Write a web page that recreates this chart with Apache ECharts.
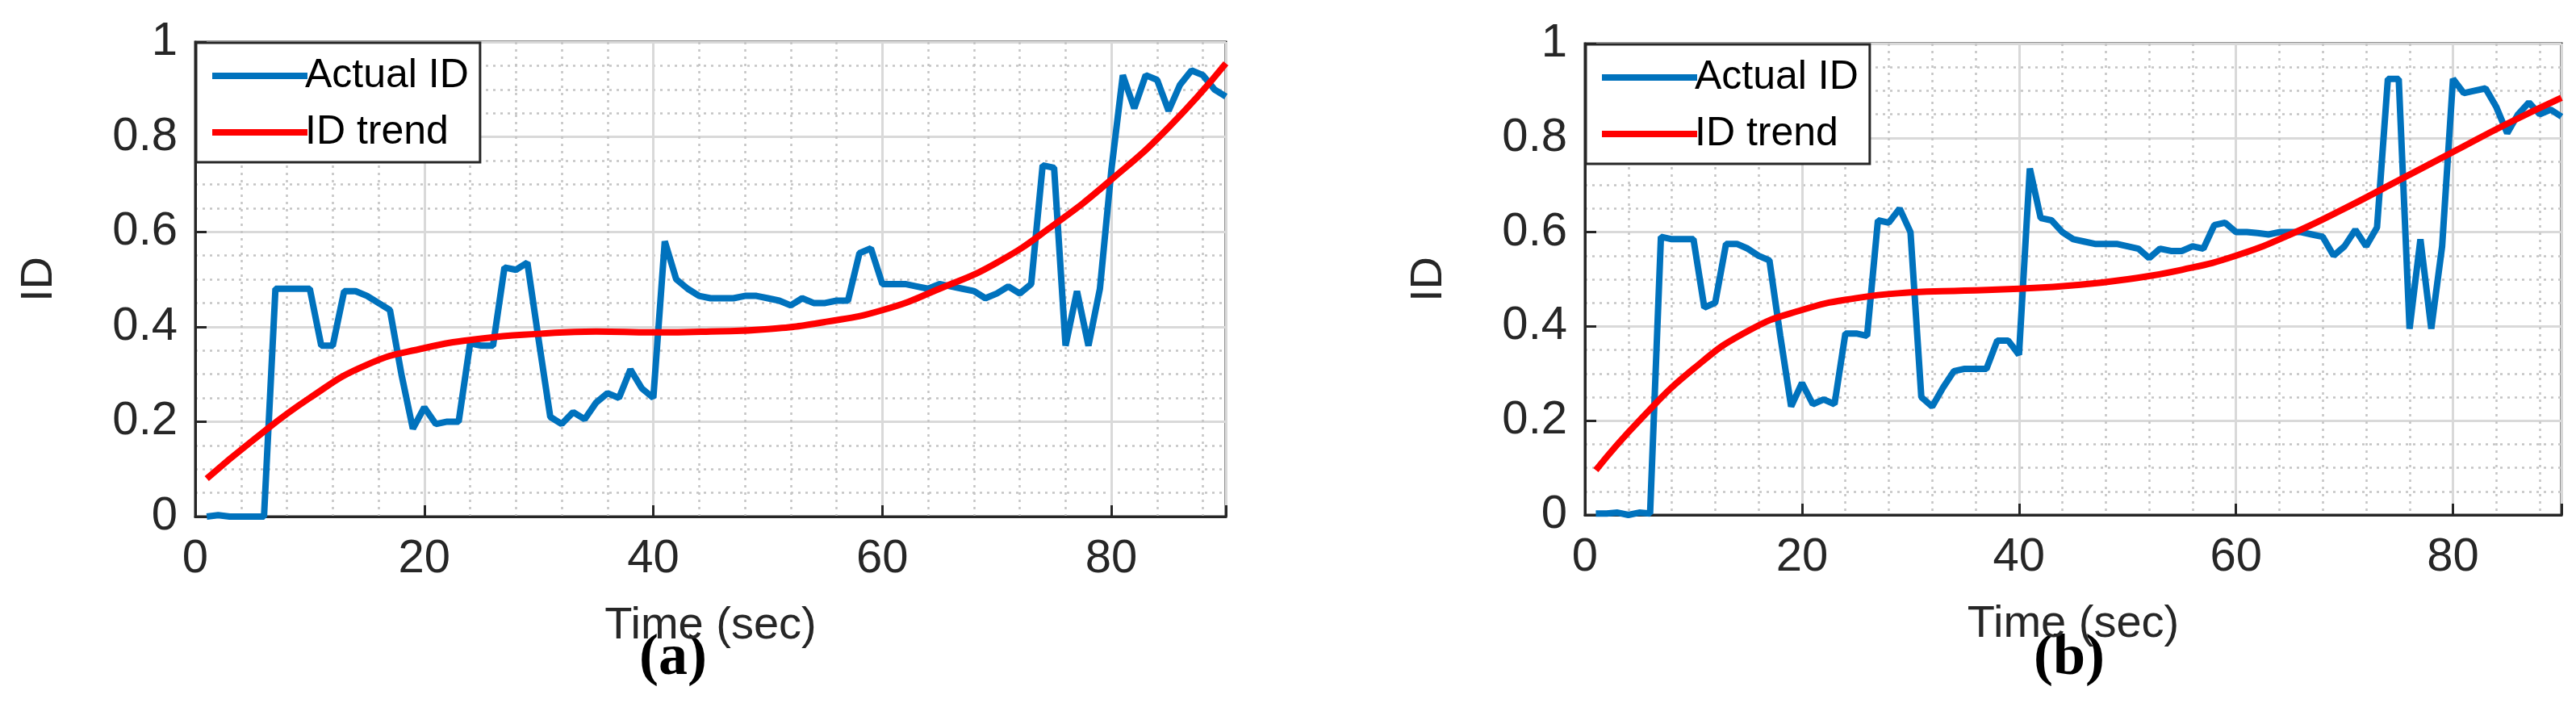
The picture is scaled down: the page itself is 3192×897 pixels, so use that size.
<!DOCTYPE html>
<html>
<head>
<meta charset="UTF-8">
<script src="https://cdn.jsdelivr.net/npm/echarts@6/dist/echarts.min.js"></script>
<style>html,body{margin:0;background:#fff}#c{width:3192px;height:897px}</style>
</head>
<body>
<div id="c"></div>
<script>
// seconds 1..90
var time = [];
for (var i = 1; i <= 90; i++) time.push(i);

var actualA = [0,0.003,0,0,0,0,0.48,0.48,0.48,0.48,0.36,0.36,0.475,0.475,0.465,0.45,0.435,0.3,0.185,0.23,
  0.195,0.2,0.2,0.365,0.36,0.36,0.525,0.52,0.535,0.37,0.21,0.195,0.22,0.205,0.24,0.26,0.25,0.31,0.27,0.25,
  0.58,0.5,0.48,0.465,0.46,0.46,0.46,0.465,0.465,0.46,0.455,0.445,0.46,0.45,0.45,0.455,0.455,0.555,0.565,0.49,
  0.49,0.49,0.485,0.48,0.49,0.485,0.48,0.475,0.46,0.47,0.485,0.47,0.49,0.74,0.735,0.36,0.475,0.36,0.48,0.73,
  0.93,0.86,0.93,0.92,0.855,0.91,0.94,0.93,0.9,0.885];
var actualB = [0.003,0.003,0.005,0,0.005,0.003,0.59,0.585,0.585,0.585,0.44,0.45,0.575,0.575,0.565,0.55,0.54,0.38,0.23,0.28,
  0.235,0.245,0.235,0.385,0.385,0.38,0.625,0.62,0.65,0.6,0.25,0.23,0.27,0.305,0.31,0.31,0.31,0.37,0.37,0.34,
  0.735,0.63,0.625,0.6,0.585,0.58,0.575,0.575,0.575,0.57,0.565,0.545,0.565,0.56,0.56,0.57,0.565,0.615,0.62,0.6,
  0.6,0.598,0.595,0.6,0.6,0.6,0.595,0.59,0.55,0.57,0.605,0.57,0.61,0.925,0.925,0.395,0.585,0.395,0.57,0.925,
  0.895,0.9,0.905,0.865,0.81,0.85,0.875,0.85,0.86,0.845];

var trendTime = [1,5,10,15,20,25,30,35,40,45,50,55,60,65,70,75,80,85,90];
var trendA = [0.08,0.16,0.25,0.32,0.355,0.375,0.385,0.39,0.388,0.39,0.395,0.41,0.435,0.48,0.535,0.615,0.71,0.82,0.955];
var trendB = [0.095,0.2,0.31,0.39,0.435,0.46,0.472,0.476,0.48,0.487,0.5,0.52,0.55,0.595,0.65,0.71,0.77,0.83,0.885];

var font = 'Liberation Sans';
var ink = '#262626';
function pairs(xs, ys) { return xs.map(function (x, k) { return [x, ys[k]]; }); }

var grids = [
  {left: 242, top: 52, width: 1277, height: 588},
  {left: 1964, top: 54, width: 1210, height: 584}
];

function xAxis(g) {
  return {
    type: 'value', gridIndex: g, min: 0, max: 90, interval: 20,
    name: 'Time (sec)', nameLocation: 'middle', nameGap: 108,
    nameTextStyle: {fontFamily: font, fontSize: 56, color: ink},
    axisLine: {show: true, lineStyle: {color: ink, width: 3}},
    axisTick: {show: true, inside: true, length: 14, lineStyle: {color: ink, width: 3}},
    minorTick: {show: false, splitNumber: 5},
    axisLabel: {fontFamily: font, fontSize: 58, color: ink, margin: 24,
      formatter: function (v) { return v > 80 ? '' : v; }},
    splitLine: {show: true, lineStyle: {color: '#d9d9d9', width: 3}},
    minorSplitLine: {show: true, lineStyle: {color: '#c4c4c4', width: 2.5, type: [3, 6]}}
  };
}
function yAxis(g) {
  return {
    type: 'value', gridIndex: g, min: 0, max: 1, interval: 0.2,
    name: 'ID', nameLocation: 'middle', nameGap: 165, nameRotate: 90,
    nameTextStyle: {fontFamily: font, fontSize: 56, color: ink},
    axisLine: {show: true, lineStyle: {color: ink, width: 3}},
    axisTick: {show: true, inside: true, length: 14, lineStyle: {color: ink, width: 3}},
    minorTick: {show: false, splitNumber: 4},
    axisLabel: {fontFamily: font, fontSize: 58, color: ink, margin: 22},
    splitLine: {show: true, lineStyle: {color: '#d9d9d9', width: 3}},
    minorSplitLine: {show: true, lineStyle: {color: '#c4c4c4', width: 2.5, type: [3, 6]}}
  };
}
function legend(g, left, top) {
  return {
    data: [{name: 'Actual ID' + g, icon: 'rect'}, {name: 'ID trend' + g, icon: 'rect'}],
    formatter: function (n) { return n.slice(0, -1); },
    left: left, top: top, orient: 'vertical', itemGap: 20,
    itemWidth: 118, itemHeight: 8, padding: [16, 14, 12, 20],
    backgroundColor: '#fff', borderColor: ink, borderWidth: 3, borderRadius: 0,
    textStyle: {fontFamily: font, fontSize: 50, color: '#000', padding: [0, 0, 0, -8]}
  };
}
function line(name, g, data, color, smooth) {
  return {
    name: name, type: 'line', xAxisIndex: g, yAxisIndex: g, data: data,
    showSymbol: false, symbol: 'none', smooth: smooth,
    lineStyle: {color: color, width: 8}, itemStyle: {color: color},
    z: smooth ? 3 : 2
  };
}

var option = {
  animation: false,
  grid: grids.map(function (g) {
    return Object.assign({show: true, borderColor: ink, borderWidth: 3}, g);
  }),
  xAxis: [xAxis(0), xAxis(1)],
  yAxis: [yAxis(0), yAxis(1)],
  legend: [legend('a', 243, 53), legend('b', 1965, 55)],
  series: [
    line('Actual IDa', 0, pairs(time, actualA), '#0072bd', false),
    line('ID trenda', 0, pairs(trendTime, trendA), '#ff0000', true),
    line('Actual IDb', 1, pairs(time, actualB), '#0072bd', false),
    line('ID trendb', 1, pairs(trendTime, trendB), '#ff0000', true)
  ],
  graphic: [
    {type: 'text', left: 792, top: 780, style: {text: '(a)', font: 'bold 72px "Liberation Serif"', fill: '#000'}},
    {type: 'text', left: 2520, top: 780, style: {text: '(b)', font: 'bold 72px "Liberation Serif"', fill: '#000'}}
  ]
};

echarts.init(document.getElementById('c')).setOption(option);
</script>
</body>
</html>
